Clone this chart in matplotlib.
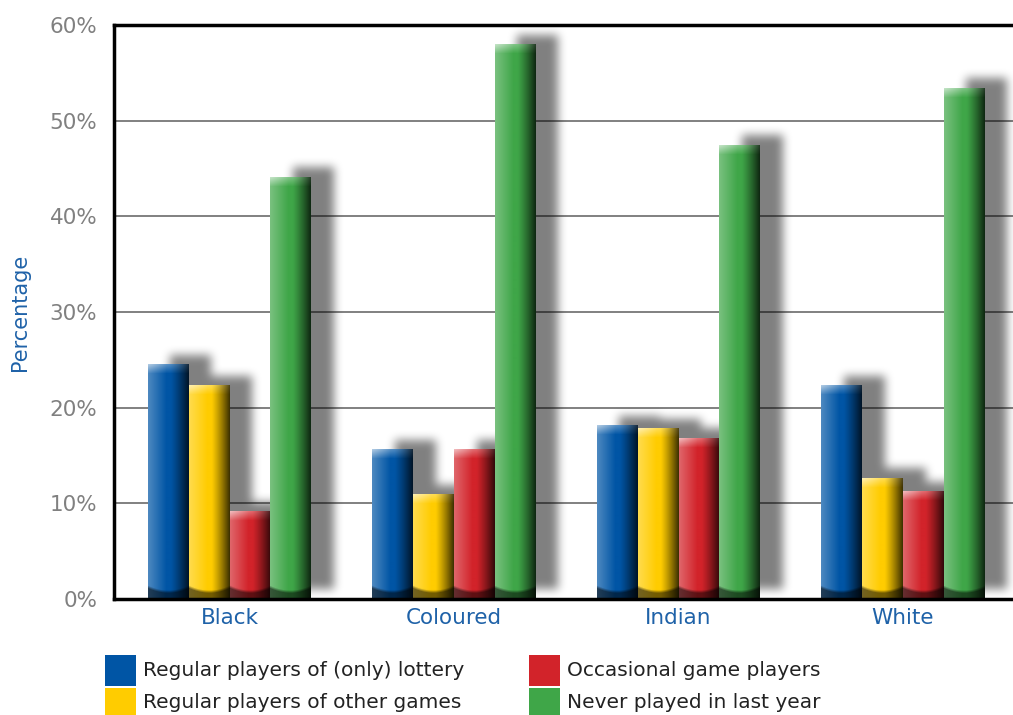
import numpy as np
import matplotlib
matplotlib.use("Agg")
import matplotlib.pyplot as plt
from matplotlib.patches import Rectangle
from matplotlib.colors import to_rgb

groups = ["Black", "Coloured", "Indian", "White"]
series = ["Regular players of (only) lottery", "Regular players of other games",
          "Occasional game players", "Never played in last year"]
colors = ["#0055A5", "#FFCC00", "#D2232A", "#3FA648"]
values = [
    [24.5, 15.6, 18.1, 22.3],   # lottery
    [22.3, 10.9, 17.8, 12.6],   # other games
    [9.1, 15.6, 16.8, 11.2],    # occasional
    [44.1, 57.9, 47.4, 53.4],   # never
]
yticks = [0, 10, 20, 30, 40, 50, 60]

fig = plt.figure(figsize=(10.13, 7.15), dpi=100)
ax = fig.add_axes([0.1125, 0.162, 0.8875, 0.803])

bw = 0.182
px_per_pct = 9.58
x = np.arange(len(groups))
xlim = (-0.515, 3.49)
ylim = (0, 60)


def bar_image(col, h):
    base = np.array(to_rgb(col))
    nr = max(int(h * px_per_pct), 2)
    nc = 41
    t = np.linspace(0, 1, nc)
    light = np.clip(0.3 * (1 - t / 0.45), 0, None)
    dark = np.where(t > 0.55, 1 - 0.75 * ((t - 0.55) / 0.45) ** 1.2, 1.0)
    row = base[None, :] * dark[:, None]
    row = row + (1 - row) * light[:, None]
    img = np.repeat(row[None, :, :], nr, axis=0)
    depth = np.arange(nr)[:, None]
    top = nr - 1 - depth
    cap = np.clip(1 - top / 9.0, 0, 1) * (0.45 * (1 - t[None, :]) + 0.1)
    img = img + (1 - img) * cap[:, :, None]
    edge = 13 * (1 - 0.35 * (1 - (2 * t - 1) ** 2))
    band = np.clip((edge[None, :] - depth) / 3.0, 0, 1) * 0.55
    img = img * (1 - band[:, :, None])
    return np.clip(img, 0, 1)


def blur(a, r, axis):
    k = np.ones(2 * r + 1) / (2 * r + 1)
    return np.apply_along_axis(lambda m: np.convolve(m, k, mode="same"), axis, a)


# shadow layer: union of offset bars, blurred
off_x, off_y = 0.098, 1.0
W, H = 900, 575
gx = np.linspace(xlim[0], xlim[1], W)
gy = np.linspace(ylim[0], ylim[1], H)
mask = np.zeros((H, W))
for i, vals in enumerate(values):
    for j, v in enumerate(vals):
        x0 = x[j] - 2 * bw + i * bw + off_x
        mx = (gx >= x0) & (gx <= x0 + bw)
        my = (gy >= off_y) & (gy <= v + off_y)
        mask[np.ix_(my, mx)] = 1
for _ in range(3):
    mask = blur(mask, 4, 0)
    mask = blur(mask, 4, 1)
shadow = np.zeros((H, W, 4))
shadow[..., 3] = 0.5 * mask
ax.imshow(shadow, extent=(xlim[0], xlim[1], ylim[0], ylim[1]), origin="lower",
          aspect="auto", interpolation="bilinear", zorder=1)

# bars
for i, vals in enumerate(values):
    for j, v in enumerate(vals):
        x0 = x[j] - 2 * bw + i * bw
        ax.imshow(bar_image(colors[i], v), extent=(x0, x0 + bw, 0, v),
                  origin="lower", aspect="auto", interpolation="bilinear",
                  zorder=2)

ax.set_xlim(*xlim)
ax.set_ylim(*ylim)
ax.set_yticks(yticks)
ax.set_yticklabels([f"{t}%" for t in yticks])
ax.set_xticks(x)
ax.set_xticklabels(groups)
ax.tick_params(length=0)
ax.tick_params(axis="y", colors="#808080", labelsize=15.5, pad=12)
ax.tick_params(axis="x", colors="#1F62A8", labelsize=15.5, pad=6)
ax.yaxis.grid(True, color="#808080", linewidth=1.4, zorder=0.5)
ax.set_axisbelow(True)
for s in ["left", "bottom", "top"]:
    ax.spines[s].set_linewidth(2.5)
    ax.spines[s].set_color("black")
ax.spines["right"].set_visible(False)
ax.set_ylabel("Percentage", color="#1F62A8", fontsize=15, labelpad=14)

# legend
lx = [105 / 1013, 529 / 1013]
ly = [1 - 670 / 715, 1 - 703 / 715]
sw, sh = 31 / 1013, 31 / 715
for i, name in enumerate(series):
    cx = lx[i // 2]
    cy = ly[i % 2]
    fig.add_artist(Rectangle((cx, cy - sh / 2), sw, sh, facecolor=colors[i],
                             edgecolor="none", transform=fig.transFigure))
    fig.text(cx + 38 / 1013, cy, name, fontsize=14.5, color="#222222",
             va="center", ha="left")

fig.savefig("out.png", dpi=100)
